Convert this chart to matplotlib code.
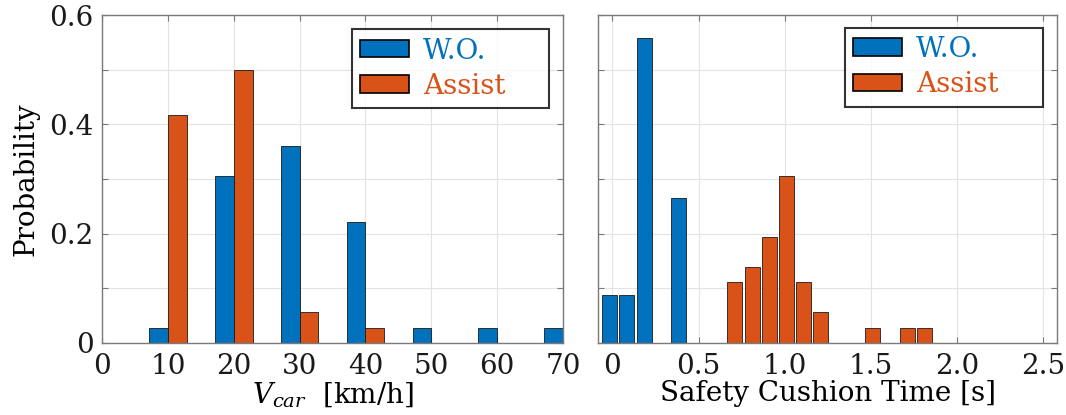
import matplotlib
matplotlib.use("Agg")
import matplotlib.pyplot as plt
from matplotlib.patches import Patch

# ---- data ----
speed_bins = [10, 20, 30, 40, 50, 60, 70]
speed_wo = [0.028, 0.306, 0.361, 0.222, 0.028, 0.028, 0.028]
speed_assist = [0.417, 0.500, 0.056, 0.028, 0.0, 0.0, 0.0]

cushion_wo_centers = [-0.016, 0.084, 0.184, 0.384]
cushion_wo = [0.088, 0.088, 0.559, 0.265]
cushion_as_centers = [0.71, 0.81, 0.91, 1.01, 1.11, 1.21, 1.51, 1.71, 1.81]
cushion_as = [0.111, 0.139, 0.194, 0.306, 0.111, 0.056, 0.028, 0.028, 0.028]

left_xticks = [0, 10, 20, 30, 40, 50, 60, 70]
right_xticks = [0, 0.5, 1.0, 1.5, 2.0, 2.5]
right_xticklabels = ["0", "0.5", "1.0", "1.5", "2.0", "2.5"]
yticks = [0, 0.1, 0.2, 0.3, 0.4, 0.5, 0.6]
yticklabels = ["0", "", "0.2", "", "0.4", "", "0.6"]
series_names = ["W.O.", "Assist"]

BLUE = "#0072BD"
ORANGE = "#D95319"
FS = 20

plt.rcParams["font.family"] = ["DejaVu Serif"]
plt.rcParams["mathtext.fontset"] = "dejavuserif"

fig = plt.figure(figsize=(10.66, 4.15), dpi=100)
ax1 = fig.add_axes([0.0957, 0.1735, 0.4325, 0.790])
ax2 = fig.add_axes([0.5613, 0.1735, 0.430, 0.790])


def style(ax):
    ax.set_ylim(0, 0.6)
    ax.set_yticks(yticks)
    ax.grid(True, color="#e3e3e3", linewidth=0.8)
    ax.set_axisbelow(True)
    for s in ax.spines.values():
        s.set_color("#7a7a7a")
        s.set_linewidth(1.0)
    ax.tick_params(direction="in", length=4, width=0.8, colors="#7a7a7a",
                   labelcolor="#1a1a1a", labelsize=FS, top=True, right=True)
    ax.tick_params(axis="x", pad=7)
    ax.tick_params(axis="y", pad=6)


def legend(ax, anchor):
    handles = [Patch(facecolor=BLUE, edgecolor="black", linewidth=1.2),
               Patch(facecolor=ORANGE, edgecolor="black", linewidth=1.2)]
    labels = [n + "    " for n in series_names]
    leg = ax.legend(handles, labels, loc="upper right", fontsize=FS,
                    frameon=True, fancybox=False, handlelength=1.76,
                    handleheight=0.58, handletextpad=0.5, borderpad=0.3,
                    labelspacing=0.3, bbox_to_anchor=anchor,
                    borderaxespad=0)
    leg.get_frame().set_edgecolor("black")
    leg.get_frame().set_linewidth(1.5)
    leg.get_texts()[0].set_color(BLUE)
    leg.get_texts()[1].set_color(ORANGE)


# left panel
w = 2.85
xs = speed_bins
ax1.bar([x - w / 2 for x in xs], speed_wo, width=w, color=BLUE,
        edgecolor="#1a1a1a", linewidth=0.6)
ax1.bar([x + w / 2 for x in xs], speed_assist, width=w, color=ORANGE,
        edgecolor="#1a1a1a", linewidth=0.6)
ax1.set_xlim(0, 70)
ax1.set_xticks(left_xticks)
style(ax1)
ax1.set_yticklabels(yticklabels)
ax1.set_xlabel(r"$V_{car}$  [km/h]", fontsize=FS, labelpad=0)
ax1.set_ylabel("Probability", fontsize=FS, labelpad=7)
legend(ax1, (0.970, 0.957))

# right panel
bw = 0.087
ax2.bar(cushion_wo_centers, cushion_wo, width=bw, color=BLUE,
        edgecolor="#1a1a1a", linewidth=0.6)
ax2.bar(cushion_as_centers, cushion_as, width=bw, color=ORANGE,
        edgecolor="#1a1a1a", linewidth=0.6)
ax2.set_xlim(-0.082, 2.578)
ax2.set_xticks(right_xticks)
ax2.set_xticklabels(right_xticklabels)
style(ax2)
ax2.set_yticklabels([])
ax2.set_xlabel("Safety Cushion Time [s]", fontsize=FS, labelpad=0)
legend(ax2, (0.969, 0.962))

fig.savefig("out.png", dpi=100)
